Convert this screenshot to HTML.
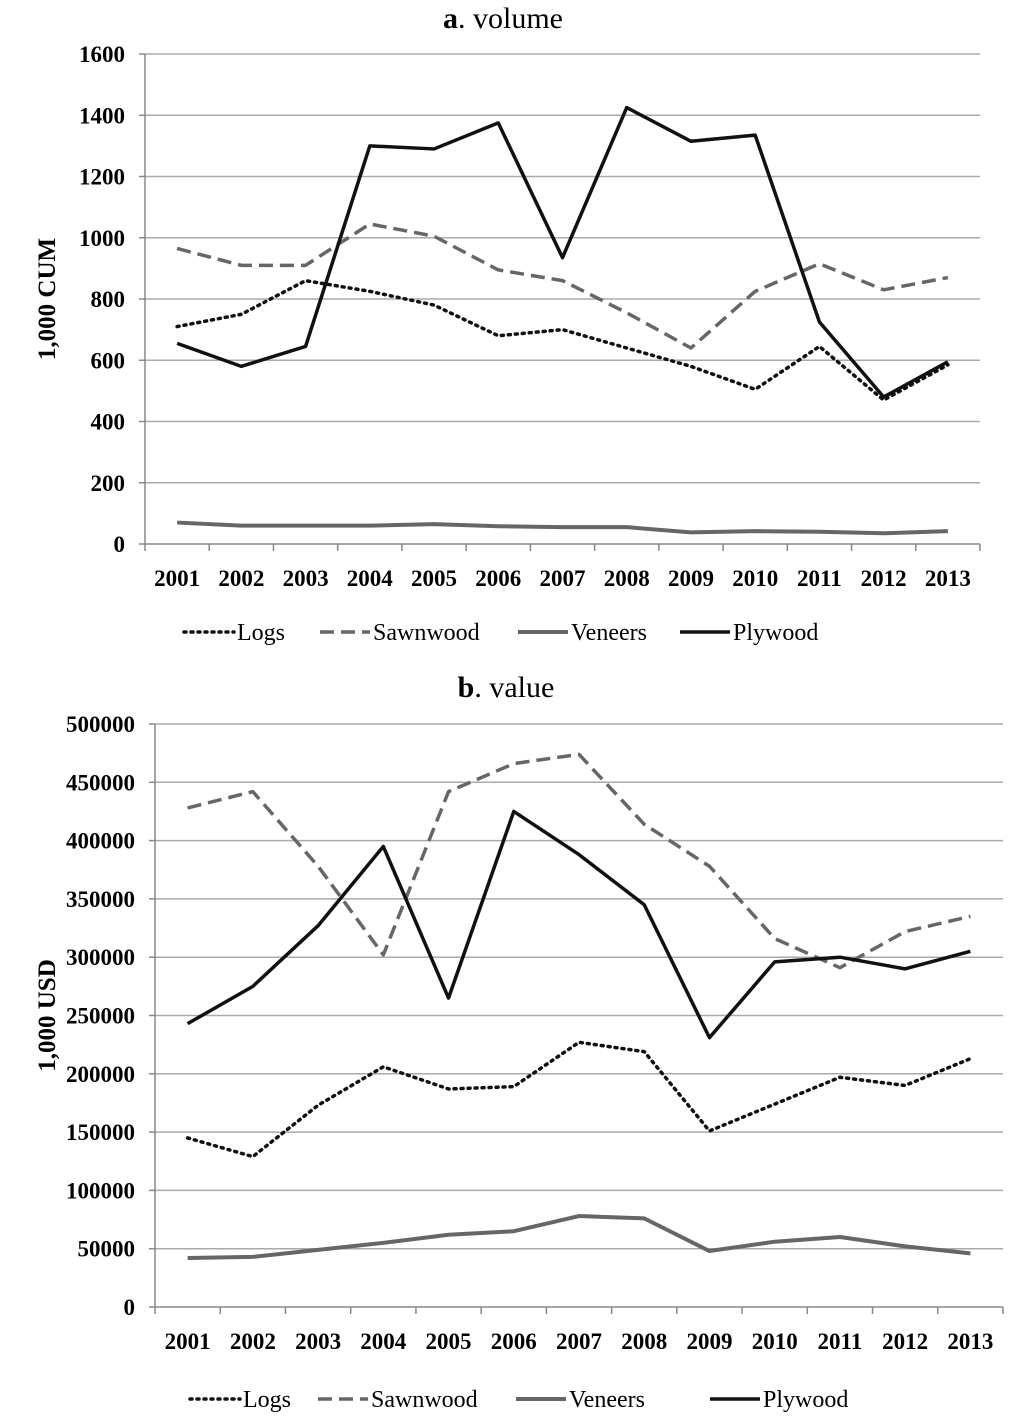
<!DOCTYPE html>
<html><head><meta charset="utf-8"><style>
body{margin:0;background:#fff;}
svg{display:block;font-family:"Liberation Serif",serif;}
</style></head><body>
<svg id="s" width="1024" height="1424" viewBox="0 0 1024 1424"></svg>
<script>
const years=["2001","2002","2003","2004","2005","2006","2007","2008","2009","2010","2011","2012","2013"];
const volLogs=[710,750,860,825,780,680,700,640,580,505,645,470,585];
const volSawnwood=[965,910,910,1045,1005,895,860,755,640,825,915,830,870];
const volVeneers=[70,60,60,60,65,58,55,55,38,42,40,35,42];
const volPlywood=[655,580,645,1300,1290,1375,935,1425,1315,1335,725,480,595];
const volTicks=[0,200,400,600,800,1000,1200,1400,1600];
const valLogs=[145000,129000,173000,206000,187000,189000,227000,219000,151000,174000,197000,190000,213000];
const valSawnwood=[428000,442000,378000,302000,442000,466000,474000,414000,378000,316000,291000,322000,335000];
const valVeneers=[42000,43000,49000,55000,62000,65000,78000,76000,48000,56000,60000,52000,46000];
const valPlywood=[243000,275000,327000,395000,265000,425000,388000,345000,231000,296000,300000,290000,305000];
const valTicks=[0,50000,100000,150000,200000,250000,300000,350000,400000,450000,500000];
const seriesNames=["Logs","Sawnwood","Veneers","Plywood"];

const svg=document.getElementById('s');
const NS='http://www.w3.org/2000/svg';
function el(tag,attrs,parent){const e=document.createElementNS(NS,tag);for(const k in attrs)e.setAttribute(k,attrs[k]);(parent||svg).appendChild(e);return e;}
const styles=[
 {stroke:'#111',dash:'2,5',w:3.5,cap:'round'},
 {stroke:'#666',dash:'14,7',w:3.5,cap:'butt'},
 {stroke:'#666',dash:'',w:4,cap:'butt'},
 {stroke:'#111',dash:'',w:3.5,cap:'butt'}];

function drawChart(cfg){
  const g=el('g',{});
  
  
  const {left,right,top,bottom,max,ticks}=cfg;
  const yS=v=>bottom-(v/max)*(bottom-top);
  const step=(right-left)/years.length;
  const xS=i=>left+step*(i+0.5);
  const t=el('text',{x:cfg.titleX,y:cfg.titleY,'text-anchor':'middle','font-size':30},g);
  
  
  const tb=el('tspan',{'font-weight':'bold'},t);tb.textContent=cfg.letter;
  const tr=el('tspan',{},t);tr.textContent='. '+cfg.title;
  ticks.forEach(v=>{
    const y=yS(v);
    if(v>0){const gl=el('line',{x1:left,x2:right,y1:y,y2:y,stroke:'#aaa','stroke-width':1.5},g);
      
      }
    el('line',{x1:left-6,x2:left,y1:y,y2:y,stroke:'#888','stroke-width':1.5},g);
    const tl=el('text',{x:left-20,y:y+8,'text-anchor':'end','font-size':23,'font-weight':'bold'},g);
    
    
    tl.textContent=v;
  });
  el('line',{x1:left,x2:left,y1:top,y2:bottom,stroke:'#888','stroke-width':1.5},g);
  const xa=el('line',{x1:left,x2:right,y1:bottom,y2:bottom,stroke:'#888','stroke-width':1.5},g);
  
  
  for(let i=0;i<=years.length;i++){el('line',{x1:left+step*i,x2:left+step*i,y1:bottom,y2:bottom+7,stroke:'#888','stroke-width':1.5},g);}
  years.forEach((yr,i)=>{
    const xl=el('text',{x:xS(i),y:bottom+42,'text-anchor':'middle','font-size':23,'font-weight':'bold'},g);
    
    
    xl.textContent=yr;
  });
  const yt=el('text',{x:0,y:0,'text-anchor':'middle','font-size':25,'font-weight':'bold',transform:`translate(${cfg.ytX},${(top+bottom)/2}) rotate(-90)`},g);
  
  
  yt.textContent=cfg.ytitle;
  cfg.series.forEach((arr,si)=>{
    const st=styles[si];
    const p=el('polyline',{points:arr.map((v,i)=>xS(i)+','+yS(v)).join(' '),fill:'none',stroke:st.stroke,'stroke-width':st.w,'stroke-dasharray':st.dash,'stroke-linecap':st.cap,'stroke-linejoin':'round'},g);
    
    
  });
  const lx=cfg.legendX, ly=cfg.legendY;
  const offs=cfg.offs;
  seriesNames.forEach((n,si)=>{
    const st=styles[si];
    const lg=el('g',{},g);
    
    
    el('line',{x1:lx+offs[si],x2:lx+offs[si]+50,y1:ly,y2:ly,stroke:st.stroke,'stroke-width':st.w,'stroke-dasharray':st.dash,'stroke-linecap':st.cap},lg);
    const tx=el('text',{x:lx+offs[si]+53,y:ly+8,'font-size':24},lg);tx.textContent=n;
  });
}
drawChart({name:'volume-chart',letter:'a',title:'volume',titleX:503,titleY:28,left:145,right:980,top:54,bottom:544,max:1600,ticks:volTicks,ytitle:'1,000 CUM',ytX:55,
  series:[volLogs,volSawnwood,volVeneers,volPlywood],legendX:184,legendY:632,offs:[0,136,334,496]});
drawChart({name:'value-chart',letter:'b',title:'value',titleX:506,titleY:697,left:155,right:1003,top:724,bottom:1307,max:500000,ticks:valTicks,ytitle:'1,000 USD',ytX:55,
  series:[valLogs,valSawnwood,valVeneers,valPlywood],legendX:190,legendY:1399,offs:[0,128,326,520]});
</script>
</body></html>
